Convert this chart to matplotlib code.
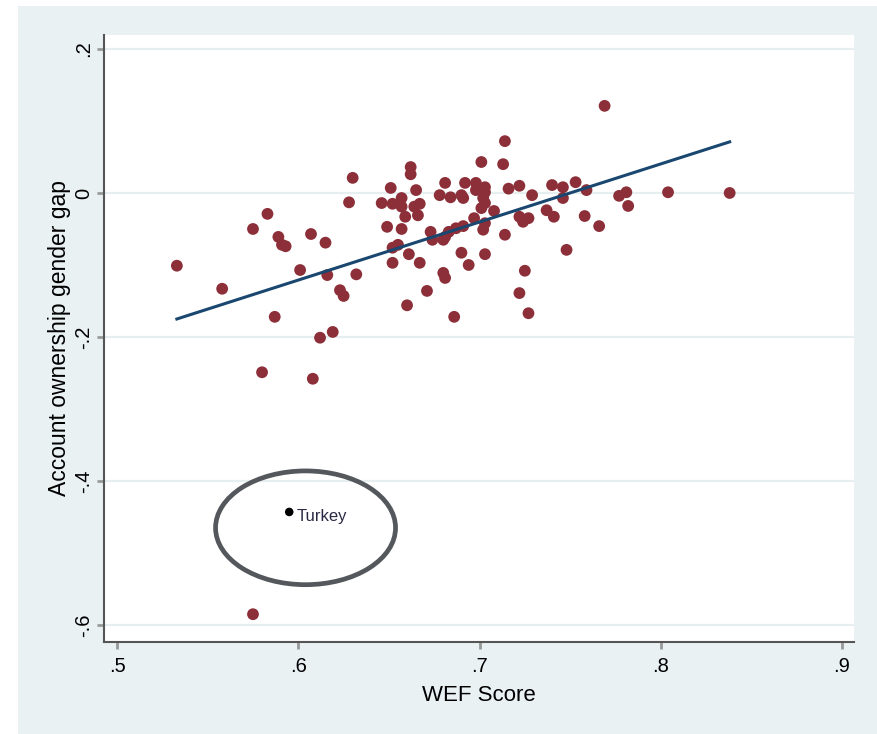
import matplotlib
matplotlib.use('Agg')
from matplotlib import pyplot as plt
from matplotlib.patches import Ellipse, Rectangle

# WEF score vs account ownership gender gap
wef_score = [
    0.533, 0.558, 0.575, 0.583, 0.589, 0.591, 0.593, 0.587, 0.580, 0.575,
    0.601, 0.607, 0.615, 0.616, 0.612, 0.619, 0.608, 0.623, 0.625, 0.628,
    0.630, 0.632,
    0.646, 0.652, 0.651, 0.657, 0.657, 0.662, 0.662, 0.665, 0.664, 0.667,
    0.666, 0.659, 0.649, 0.657, 0.652, 0.655, 0.661, 0.652, 0.667, 0.671,
    0.660, 0.686, 0.673, 0.674, 0.680, 0.681, 0.683, 0.687, 0.691, 0.680,
    0.681, 0.690, 0.694, 0.681, 0.678, 0.684, 0.690, 0.692, 0.691, 0.698,
    0.698, 0.703, 0.702, 0.703, 0.701, 0.697, 0.708, 0.703, 0.702, 0.701,
    0.713, 0.714, 0.714, 0.703, 0.703,
    0.716, 0.722, 0.729, 0.722, 0.724, 0.727, 0.725, 0.722, 0.727, 0.740,
    0.746, 0.746, 0.753, 0.759, 0.737, 0.741, 0.758, 0.766, 0.748, 0.769,
    0.777, 0.781, 0.782, 0.804, 0.838,
]
gender_gap = [
    -0.101, -0.133, -0.050, -0.029, -0.061, -0.072, -0.074, -0.172, -0.249, -0.585,
    -0.107, -0.057, -0.069, -0.114, -0.201, -0.193, -0.258, -0.135, -0.143, -0.013,
    0.021, -0.113,
    -0.014, -0.015, 0.007, -0.007, -0.019, 0.036, 0.026, 0.004, -0.019, -0.015,
    -0.031, -0.033, -0.047, -0.050, -0.076, -0.072, -0.085, -0.097, -0.097, -0.136,
    -0.156, -0.172, -0.054, -0.065, -0.065, -0.061, -0.054, -0.049, -0.046, -0.111,
    -0.118, -0.083, -0.100, 0.014, -0.003, -0.006, -0.003, 0.014, -0.007, 0.014,
    0.004, 0.001, -0.007, -0.014, -0.021, -0.035, -0.025, -0.042, -0.051, 0.043,
    0.040, 0.072, -0.058, -0.085, 0.008,
    0.006, 0.010, -0.003, -0.033, -0.040, -0.035, -0.108, -0.139, -0.167, 0.011,
    0.008, -0.007, 0.015, 0.004, -0.024, -0.033, -0.032, -0.046, -0.079, 0.121,
    -0.004, 0.001, -0.018, 0.001, 0.000,
]

# highlighted outlier
turkey_x = [0.595]
turkey_y = [-0.443]

# fitted line end points
fit_x = [0.533, 0.838]
fit_y = [-0.175, 0.071]

x_ticks = [0.5, 0.6, 0.7, 0.8, 0.9]
x_tick_labels = ['.5', '.6', '.7', '.8', '.9']
y_ticks = [0.2, 0.0, -0.2, -0.4, -0.6]
y_tick_labels = ['.2', '0', '-.2', '-.4', '-.6']

plt.rcParams['font.family'] = ['Liberation Sans', 'DejaVu Sans']

bg_color = '#eaf1f3'
fig = plt.figure(figsize=(8.77, 7.34), dpi=100, facecolor='white')

# stata style outer graph region
fig.patches.append(Rectangle((18 / 877, 0), 1, 1 - 6 / 734, transform=fig.transFigure,
                             facecolor=bg_color, edgecolor='none', zorder=-10))

ax = fig.add_axes([104 / 877, 1 - 642 / 734, 750 / 877, 607 / 734])
ax.set_facecolor('white')

ax.scatter(wef_score, gender_gap, s=72, color='#8c2f39', edgecolors='none', zorder=3)
ax.plot(fit_x, fit_y, color='#1a476f', linewidth=2.2, zorder=4)
ax.scatter(turkey_x, turkey_y, s=38, color='black', edgecolors='none', zorder=5)
ax.annotate('Turkey', (turkey_x[0], turkey_y[0]), xytext=(5, -3), textcoords='offset points',
            fontsize=12, color='#2a2a45', va='center', ha='left', zorder=5)

# circle around the outlier
ax.add_patch(Ellipse((0.604, -0.465), 0.0993, 0.158, facecolor='none',
                     edgecolor='#54585c', linewidth=3.4, zorder=6))

ax.set_xlim(0.4928, 0.9066)
ax.set_ylim(-0.6236, 0.2194)

ax.set_xticks(x_ticks)
ax.set_xticklabels(x_tick_labels, fontsize=14.5)
ax.set_yticks(y_ticks)
ax.set_yticklabels(y_tick_labels, fontsize=14.5, rotation=90, va='center')

ax.tick_params(axis='both', direction='out', length=5, width=2, color='#999999')
ax.tick_params(axis='x', pad=6)
ax.tick_params(axis='y', pad=3)
ax.grid(axis='y', color='#e6eef0', linewidth=1.6, zorder=0)
ax.grid(axis='x', visible=False)
ax.set_axisbelow(True)

for side in ['top', 'right']:
    ax.spines[side].set_visible(False)
for side in ['left', 'bottom']:
    ax.spines[side].set_color('#555555')
    ax.spines[side].set_linewidth(1.5)

ax.set_xlabel('WEF Score', fontsize=16, labelpad=6)
ax.set_ylabel('Account ownership gender gap', fontsize=16.5, labelpad=2)

plt.savefig('out.png', dpi=100, facecolor='white')
